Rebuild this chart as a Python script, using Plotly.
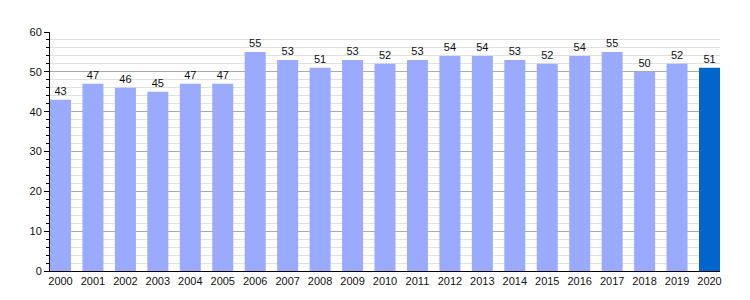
import plotly.graph_objects as go

years = [str(y) for y in range(2000, 2021)]
values = [43, 47, 46, 45, 47, 47, 55, 53, 51, 53, 52, 53, 54, 54, 53, 52, 54, 55, 50, 52, 51]
colors = ["#99aaff"] * 20 + ["#0066cc"]

fig = go.Figure(go.Bar(
    x=years, y=values, marker=dict(color=colors, line=dict(width=0)),
    text=[str(v) for v in values], textposition="outside",
    textfont=dict(family="Liberation Sans, Arial", size=11, color="#111"),
    cliponaxis=False,
))
fig.update_layout(
    width=750, height=300,
    margin=dict(l=50, r=30, t=32, b=29),
    paper_bgcolor="white", plot_bgcolor="white",
    bargap=0.353, showlegend=False,
    font=dict(family="Liberation Sans, Arial", size=11, color="#111"),
)
fig.update_xaxes(
    range=[-0.3235, 20.3235],
    showline=True, linecolor="black", linewidth=1, showgrid=False,
    ticks="", tickfont=dict(size=11), tickangle=0,
)
fig.update_yaxes(
    range=[0, 60], dtick=10, showline=True, linecolor="black", linewidth=1,
    ticks="outside", ticklen=5, tickcolor="black",
    showgrid=True, gridcolor="#aaaaaa", gridwidth=1, zeroline=False,
    minor=dict(dtick=2, showgrid=True, gridcolor="#e0e0e0", ticks="outside", ticklen=3, tickcolor="black"),
    tickfont=dict(size=11),
)
fig.write_html("out.html")
